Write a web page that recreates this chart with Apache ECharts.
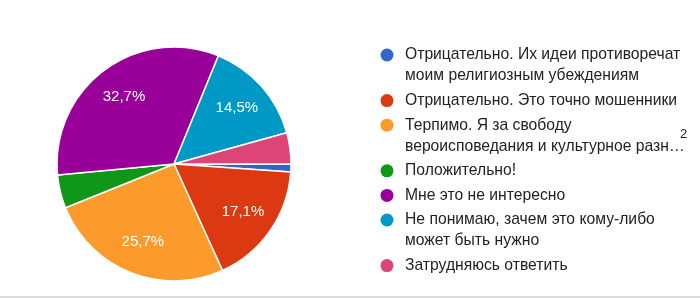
<!DOCTYPE html>
<html>
<head>
<meta charset="utf-8">
<script src="https://cdn.jsdelivr.net/npm/echarts@6/dist/echarts.min.js"></script>
<style>
html,body{margin:0;padding:0;background:#fff;}
#chart{width:700px;height:298px;}
</style>
</head>
<body>
<div id="chart"></div>
<script>
const categories = [
  "Отрицательно. Их идеи противоречат моим религиозным убеждениям",
  "Отрицательно. Это точно мошенники",
  "Терпимо. Я за свободу вероисповедания и культурное разнообразие",
  "Положительно!",
  "Мне это не интересно",
  "Не понимаю, зачем это кому-либо может быть нужно",
  "Затрудняюсь ответить"
];
const values = [1.1, 17.1, 25.7, 4.6, 32.7, 14.5, 4.3];
const colors = ["#3366cc", "#dc3912", "#fd9a2c", "#109618", "#990099", "#0099c6", "#dd4477"];
const legendLines = [
  ["Отрицательно. Их идеи противоречат", "моим религиозным убеждениям"],
  ["Отрицательно. Это точно мошенники"],
  ["Терпимо. Я за свободу", "вероисповедания и культурное разн…"],
  ["Положительно!"],
  ["Мне это не интересно"],
  ["Не понимаю, зачем это кому-либо", "может быть нужно"],
  ["Затрудняюсь ответить"]
];
const pageLabel = "2";

const FONT = "Arial, 'Liberation Sans', sans-serif";
const chart = echarts.init(document.getElementById('chart'), null, {renderer: 'canvas'});

const pieData = categories.map((c, i) => ({name: c, value: values[i], itemStyle: {color: colors[i]}}));
const labelData = categories.map((c, i) => ({name: c, value: values[i]}));

// legend graphics
const graphics = [];
const lineH = 21, gap = 3.6;
let y = 55;
legendLines.forEach((lines, i) => {
  graphics.push({type: 'circle', shape: {cx: 387, cy: y, r: 6.5}, style: {fill: colors[i]}, silent: true});
  graphics.push({type: 'text', x: 405, y: y - lineH / 2, style: {text: lines.join("\n"), font: "15.7px " + FONT, fill: "#222", lineHeight: lineH, verticalAlign: 'top', align: 'left'}, silent: true});
  y += lines.length * lineH + gap;
});
graphics.push({type: 'text', x: 680, y: 128, style: {text: pageLabel, font: "13px " + FONT, fill: "#222"}, silent: true});
graphics.push({type: 'rect', shape: {x: 0, y: 296, width: 700, height: 2}, style: {fill: "#dcdcdc"}, silent: true});

chart.setOption({
  animation: false,
  backgroundColor: '#fff',
  graphic: graphics,
  series: [
    {
      type: 'pie',
      center: [174, 164],
      radius: 117,
      startAngle: 0,
      clockwise: true,
      data: pieData,
      itemStyle: {borderColor: '#fff', borderWidth: 1.5},
      label: {show: false},
      labelLine: {show: false},
      emphasis: {disabled: true},
      silent: true
    },
    {
      type: 'pie',
      center: [174, 164],
      radius: [45, 117],
      startAngle: 0,
      clockwise: true,
      data: labelData,
      itemStyle: {color: 'rgba(0,0,0,0)'},
      label: {
        show: true,
        position: 'inside',
        color: '#fff',
        fontSize: 15,
        fontFamily: FONT,
        formatter: p => p.value >= 10 ? p.value.toFixed(1).replace('.', ',') + '%' : ''
      },
      labelLine: {show: false},
      emphasis: {disabled: true},
      silent: true
    }
  ]
});
</script>
</body>
</html>
